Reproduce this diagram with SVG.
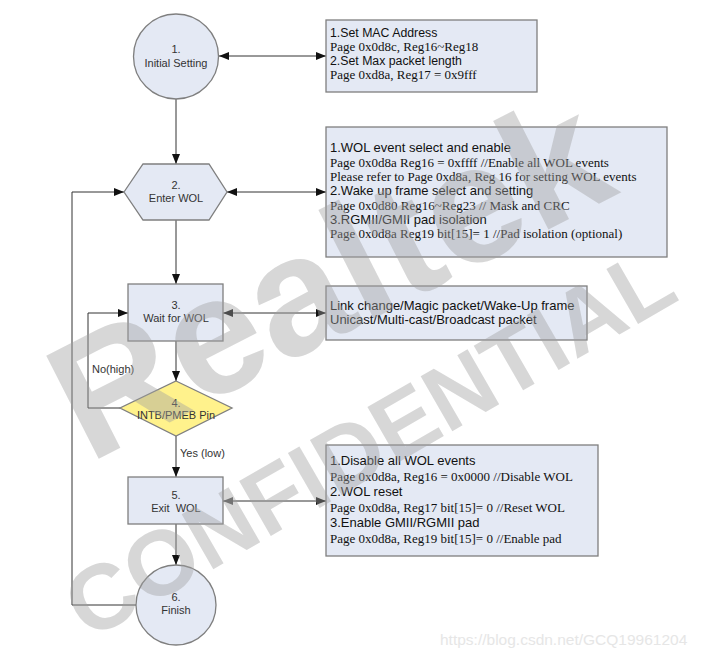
<svg xmlns="http://www.w3.org/2000/svg" width="702" height="657" viewBox="0 0 702 657">
<style>
.node{fill:#E4E9F4;stroke:#7f7f7f;stroke-width:1.3}
.dia{fill:#FFF28C;stroke:#7f7f7f;stroke-width:1.3}
.lbl{font-family:"Liberation Sans",Arial,sans-serif;font-size:11px;fill:#333;text-anchor:middle}
.edge{fill:none;stroke:#333;stroke-width:1}
.h{font-family:"Liberation Sans",Arial,sans-serif;font-size:13px;fill:#111}
.t{font-family:"Liberation Serif","Times New Roman",serif;font-size:13px;fill:#111}
.el{font-family:"Liberation Sans",Arial,sans-serif;font-size:11px;fill:#333}
.wm{font-family:"Liberation Sans",Arial,sans-serif;font-weight:bold;fill:#a0a0a0;fill-opacity:0.42;text-anchor:middle}
</style>
<defs>
<marker id="ah" viewBox="0 0 10 8" refX="10" refY="4" markerWidth="10" markerHeight="8" markerUnits="userSpaceOnUse" orient="auto-start-reverse"><path d="M0,0 L10,4 L0,8 z" fill="#111"/></marker>
<marker id="ahg" viewBox="0 0 10 8" refX="10" refY="4" markerWidth="10" markerHeight="8" markerUnits="userSpaceOnUse" orient="auto-start-reverse"><path d="M0,0 L10,4 L0,8 z" fill="#555"/></marker>
</defs>
<rect width="702" height="657" fill="#fff"/>
<g id="connectors">
<line class="edge" x1="219" y1="56" x2="326" y2="56" marker-start="url(#ah)" marker-end="url(#ah)"/>
<line class="edge" x1="176" y1="99" x2="176" y2="164" marker-end="url(#ah)"/>
<line class="edge" x1="227" y1="192" x2="326" y2="192" marker-start="url(#ah)" marker-end="url(#ah)"/>
<line class="edge" x1="176" y1="220" x2="176" y2="284" marker-end="url(#ah)"/>
<line class="edge" x1="223" y1="313" x2="326" y2="313" marker-start="url(#ah)" marker-end="url(#ah)"/>
<line class="edge" x1="176" y1="341" x2="176" y2="381" marker-end="url(#ah)"/>
<polyline class="edge" points="120,408 88,408 88,313 128,313" marker-end="url(#ah)"/>
<line class="edge" x1="176" y1="436" x2="176" y2="477" marker-end="url(#ah)"/>
<line class="edge" x1="223" y1="501" x2="326" y2="501" marker-start="url(#ahg)" marker-end="url(#ah)"/>
<line class="edge" x1="176" y1="524" x2="176" y2="565" marker-end="url(#ah)"/>
<polyline class="edge" points="136,605 72,605 72,192 124,192" marker-end="url(#ah)"/>
<text class="el" x="92" y="373">No(high)</text>
<text class="el" x="180" y="457">Yes (low)</text>
</g>
<g id="n1">
<circle class="node" cx="176" cy="56.5" r="42.5"/>
<text class="lbl" x="176" y="53">1.</text>
<text class="lbl" x="176" y="66.5">Initial Setting</text>
</g>
<g id="b1">
<rect class="node" x="326" y="20" width="211" height="72"/>
<text class="h" x="330" y="36.5" style="font-size:12.3px">1.Set MAC Address</text>
<text class="t" x="330" y="50.5">Page 0x0d8c, Reg16~Reg18</text>
<text class="h" x="330" y="65" style="font-size:12.3px">2.Set Max packet length</text>
<text class="t" x="330" y="79">Page 0xd8a, Reg17 = 0x9fff</text>
</g>
<g id="n2">
<polygon class="node" points="124,192 143,164 209,164 227,192 209,220 143,220"/>
<text class="lbl" x="176" y="189">2.</text>
<text class="lbl" x="176" y="201.5">Enter WOL</text>
</g>
<g id="b2">
<rect class="node" x="326" y="127" width="341" height="130"/>
<text class="h" x="330" y="152">1.WOL event select and enable</text>
<text class="t" x="330" y="166.5">Page 0x0d8a Reg16 = 0xffff //Enable all WOL events</text>
<text class="t" x="330" y="181">Please refer to Page 0xd8a, Reg 16 for setting WOL events</text>
<text class="h" x="330" y="195">2.Wake up frame select and setting</text>
<text class="t" x="330" y="209.5">Page 0x0d80 Reg16~Reg23 // Mask and CRC</text>
<text class="h" x="330" y="224">3.RGMII/GMII pad isolation</text>
<text class="t" x="330" y="238">Page 0x0d8a Reg19 bit[15]= 1 //Pad isolation (optional)</text>
</g>
<g id="n3">
<rect class="node" x="128" y="284" width="95" height="57"/>
<text class="lbl" x="176" y="309">3.</text>
<text class="lbl" x="176" y="322">Wait for WOL</text>
</g>
<g id="b3">
<rect class="node" x="326" y="286" width="261" height="54"/>
<text class="h" x="330" y="309.5">Link change/Magic packet/Wake-Up frame</text>
<text class="h" x="330" y="323.5">Unicast/Multi-cast/Broadcast packet</text>
</g>
<g id="n4">
<polygon class="dia" points="176,381 232,408 176,436 120,408"/>
<text class="lbl" x="176" y="406.5">4.</text>
<text class="lbl" x="176" y="419">INTB/PMEB Pin</text>
</g>
<g id="n5">
<rect class="node" x="128" y="477" width="95" height="47"/>
<text class="lbl" x="176" y="499">5.</text>
<text class="lbl" x="176" y="511.5" xml:space="preserve">Exit  WOL</text>
</g>
<g id="b5">
<rect class="node" x="326" y="445" width="272" height="111"/>
<text class="h" x="330" y="465">1.Disable all WOL events</text>
<text class="t" x="330" y="480.5">Page 0x0d8a, Reg16 = 0x0000 //Disable WOL</text>
<text class="h" x="330" y="496">2.WOL reset</text>
<text class="t" x="330" y="511.5">Page 0x0d8a, Reg17 bit[15]= 0 //Reset WOL</text>
<text class="h" x="330" y="527">3.Enable GMII/RGMII pad</text>
<text class="t" x="330" y="542.5">Page 0x0d8a, Reg19 bit[15]= 0 //Enable pad</text>
</g>
<g id="n6">
<circle class="node" cx="176" cy="605" r="40"/>
<text class="lbl" x="176" y="600.5">6.</text>
<text class="lbl" x="176" y="614">Finish</text>
</g>
<g id="watermark">
<text class="wm" transform="translate(355,328) rotate(-27)" font-size="168">Realtek</text>
<text class="wm" transform="translate(385,470) rotate(-30)" font-size="92">CONFIDENTIAL</text>
<text x="440" y="645" style="font-family:'Liberation Sans',Arial,sans-serif;font-size:15.5px;fill:#e6e6e6">https://blog.csdn.net/GCQ19961204</text>
</g>
</svg>
